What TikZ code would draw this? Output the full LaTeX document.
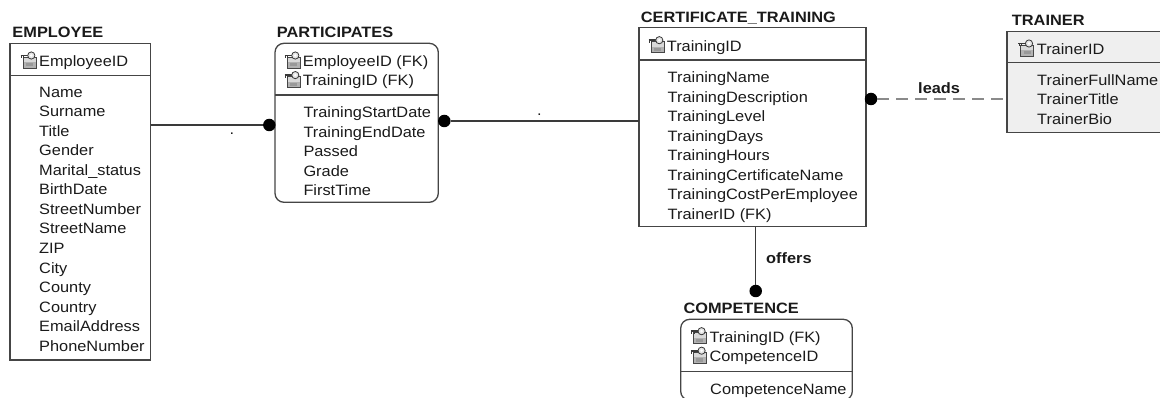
\documentclass[tikz,border=0pt]{standalone}
\usepackage{fontspec}
\setmainfont[FakeStretch=1.09]{Liberation Sans}
\definecolor{txt}{HTML}{1A1A1A}
\definecolor{boxcol}{HTML}{454545}
\definecolor{linecol}{HTML}{3A3A3A}
\definecolor{dashcol}{HTML}{8A8A8A}
\definecolor{trfill}{HTML}{EFEFEF}
\begin{document}
\begin{tikzpicture}[x=1pt,y=-1pt,
  box/.style={draw=boxcol, line width=1.3pt, anchor=north west, inner sep=0pt, outer sep=0pt},
  rbox/.style={box, rounded corners=9pt},
  divider/.style={draw=boxcol, line width=1.2pt},
  ttl/.style={anchor=base west, inner sep=0pt, text=txt, font=\bfseries\fontsize{15}{18}\selectfont},
  row/.style={anchor=base west, inner sep=0pt, text=txt, font=\fontsize{15}{18}\selectfont},
  lbl/.style={anchor=base west, inner sep=0pt, text=txt, font=\bfseries\fontsize{15}{18}\selectfont},
  dotnode/.style={circle, fill=black, inner sep=0pt, minimum size=12.5pt},
  conn/.style={line width=1.3pt, draw=linecol},
  dashconn/.style={line width=2pt, draw=dashcol, dash pattern=on 12pt off 7pt},
  keyicon/.pic={
    \fill[gray!30] (3,6) rectangle (16,11);
    \fill[gray!60] (3,11) rectangle (16,17);
    \draw[gray!55!black, line width=0.5pt] (3,6) rectangle (16,17);
    \fill[gray!80] (6,12) rectangle (13,15.5);
    \draw[line width=1.6pt, gray!45!black] (0.5,4.5) -- (8,4.5);
    \draw[line width=1pt, gray!45!black] (1.6,4.5) -- (1.6,7.5) (3.8,4.5) -- (3.8,7);
    \filldraw[fill=gray!20, draw=gray!45!black, line width=0.8pt] (11.3,4.5) circle (3.6);
    \fill[white] (11.3,4.5) circle (1.4);
  }
]
\useasboundingbox (0,0) rectangle (1160,398);

% ---------------- EMPLOYEE ----------------
\node[ttl] (empT) at (12.3,37.1) {EMPLOYEE};
\node[box, minimum width=140.7pt, minimum height=316.7pt] (emp) at (10,43.3) {};
\draw[divider] (10,75.3) -- (150.7,75.3);
\pic at (20,51) {keyicon};
\node[row] (empK1) at (39,66.4) {EmployeeID};
\foreach \t [count=\i from 0] in {Name,Surname,Title,Gender,Marital\_status,BirthDate,StreetNumber,StreetName,ZIP,City,County,Country,EmailAddress,PhoneNumber}
  \node[row] (empA\i) at (39,{97.1+\i*19.55}) {\t};

% ---------------- PARTICIPATES ----------------
\node[ttl] (partT) at (276.7,37.7) {PARTICIPATES};
\node[rbox, minimum width=163.3pt, minimum height=159pt] (part) at (275,43.3) {};
\draw[divider] (275,95) -- (438.3,95);
\pic at (284,51) {keyicon};
\pic at (284,70.6) {keyicon};
\node[row] (partK1) at (302.7,66.4) {EmployeeID (FK)};
\node[row] (partK2) at (302.7,85.95) {TrainingID (FK)};
\foreach \t [count=\i from 0] in {TrainingStartDate,TrainingEndDate,Passed,Grade,FirstTime}
  \node[row] (partA\i) at (303.3,{117.7+\i*19.55}) {\t};

% ---------------- CERTIFICATE_TRAINING ----------------
\node[ttl] (ctT) at (640.7,22.4) {CERTIFICATE\_TRAINING};
\node[box, minimum width=227pt, minimum height=199pt] (ct) at (639,27.7) {};
\draw[divider] (639,60) -- (866,60);
\pic at (648,35.7) {keyicon};
\node[row] (ctK1) at (666.7,51.1) {TrainingID};
\foreach \t [count=\i from 0] in {TrainingName,TrainingDescription,TrainingLevel,TrainingDays,TrainingHours,TrainingCertificateName,TrainingCostPerEmployee,TrainerID (FK)}
  \node[row] (ctA\i) at (667.5,{82.7+\i*19.55}) {\t};

% ---------------- TRAINER ----------------
\node[ttl] (trT) at (1011.7,25.4) {TRAINER};
\node[box, fill=trfill, minimum width=200pt, minimum height=100.6pt] (trainer) at (1007,31.7) {};
\draw[divider] (1007,62.3) -- (1207,62.3);
\pic at (1017.7,39) {keyicon};
\node[row] (trK1) at (1036.7,54.4) {TrainerID};
\foreach \t [count=\i from 0] in {TrainerFullName,TrainerTitle,TrainerBio}
  \node[row] (trA\i) at (1037,{85.4+\i*19.55}) {\t};

% ---------------- COMPETENCE ----------------
\node[ttl] (compT) at (683.3,313.1) {COMPETENCE};
\node[rbox, minimum width=171.6pt, minimum height=81pt] (comp) at (680.7,319.3) {};
\draw[divider] (680.7,371.7) -- (852.3,371.7);
\pic at (690.3,326.7) {keyicon};
\pic at (690.3,346.2) {keyicon};
\node[row] (compK1) at (709.3,342.1) {TrainingID (FK)};
\node[row] (compK2) at (709.3,361.65) {CompetenceID};
\node[row] (compA0) at (710,394.4) {CompetenceName};

% ---------------- connectors ----------------
\node[dotnode] (d1) at (269.3,125) {};
\node[dotnode] (d2) at (444.3,121) {};
\node[dotnode] (d3) at (871,99) {};
\node[dotnode] (d4) at (755.7,291) {};

\draw[conn] (emp.east |- d1) -- (d1);
\draw[conn] (d2) -- (ct.west |- d2);
\draw[dashconn] (d3) -- (trainer.west |- d3);
\draw[conn] (ct.south -| d4) -- (d4);

\node[row] (l1) at (229.5,134.5) {.};
\node[row] (l2) at (536.8,115.2) {.};
\node[lbl] (l3) at (918,93.3) {leads};
\node[lbl] (l4) at (766,263.3) {offers};
\end{tikzpicture}
\end{document}
